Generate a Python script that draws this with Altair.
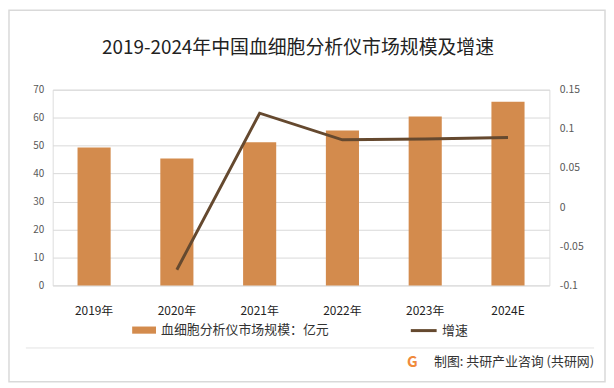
import altair as alt
import pandas as pd

years = ["2019年", "2020年", "2021年", "2022年", "2023年", "2024E"]
market_size = [49.3, 45.4, 51.2, 55.4, 60.4, 65.7]
growth_years = ["2020年", "2021年", "2022年", "2023年", "2024E"]
growth = [-0.08, 0.12, 0.086, 0.087, 0.089]

bar_label = "血细胞分析仪市场规模：亿元"
line_label = "增速"
title_text = "2019-2024年中国血细胞分析仪市场规模及增速"
source_text = "制图: 共研产业咨询 (共研网)"

BAR_COLOR = "#D38B4D"
LINE_COLOR = "#65492F"
FONT = "Noto Sans CJK SC"

bars_df = pd.DataFrame({"year": years, "value": market_size, "s": bar_label})
line_df = pd.DataFrame({"year": growth_years, "rate": growth, "s": line_label})
one = pd.DataFrame({"k": [0]})

x_enc = alt.X(
    "year:N",
    sort=years,
    scale=alt.Scale(domain=years, paddingInner=0.6, paddingOuter=0.3),
    axis=alt.Axis(title=None, labelAngle=0, domain=False, ticks=False,
                  labelFontSize=12, labelColor="#222222", labelFont=FONT,
                  labelPadding=20),
)

bars = alt.Chart(bars_df).mark_bar(color=BAR_COLOR).encode(
    x=x_enc,
    y=alt.Y("value:Q", scale=alt.Scale(domain=[0, 70], nice=False),
            axis=alt.Axis(title=None, values=[0, 10, 20, 30, 40, 50, 60, 70],
                          domain=False, ticks=False, grid=True,
                          gridColor="#D9D9D9", gridWidth=1,
                          labelFontSize=10, labelColor="#595959",
                          labelFont=FONT, labelPadding=9)),
    fill=alt.Fill("s:N", scale=alt.Scale(domain=[bar_label], range=[BAR_COLOR]),
                  legend=alt.Legend(title=None, orient="none", legendX=80, legendY=230,
                                    symbolType="M-1,-0.3H1V0.3H-1Z", symbolSize=576,
                                    symbolStrokeWidth=0,
                                    labelFontSize=13, labelColor="#333333",
                                    labelFont=FONT, labelOffset=5, labelLimit=400)),
)

line = alt.Chart(line_df).mark_line(color=LINE_COLOR, strokeWidth=3).encode(
    x=alt.X("year:N", sort=years, scale=alt.Scale(domain=years)),
    y=alt.Y("rate:Q", scale=alt.Scale(domain=[-0.1, 0.15], nice=False),
            axis=alt.Axis(title=None, orient="right",
                          values=[-0.1, -0.05, 0, 0.05, 0.1, 0.15],
                          labelExpr="replace(format(datum.value, '~g'), '−', '-')",
                          domain=False, ticks=False, grid=False,
                          labelFontSize=10.5, labelColor="#595959",
                          labelFont=FONT, labelPadding=10, labelAlign="left")),
    stroke=alt.Stroke("s:N", scale=alt.Scale(domain=[line_label], range=[LINE_COLOR]),
                      legend=alt.Legend(title=None, orient="none", legendX=359, legendY=228,
                                        symbolType="stroke", symbolSize=676,
                                        symbolStrokeWidth=3,
                                        labelFontSize=13, labelColor="#333333",
                                        labelFont=FONT, labelOffset=4)),
)

frame = alt.Chart(one).mark_rect(fill="transparent", stroke="#D9D9D9", strokeWidth=1.5).encode(
    x=alt.value(-44), x2=alt.value(556), y=alt.value(-80), y2=alt.value(294)
)

title = alt.Chart(one).mark_text(align="center", baseline="middle", fontSize=19,
                                 font=FONT, color="#222222").encode(
    x=alt.value(247), y=alt.value(-42), text=alt.value(title_text)
)

separator = alt.Chart(one).mark_rule(color="#E3E3E3", strokeWidth=1).encode(
    x=alt.value(-27), x2=alt.value(545), y=alt.value(260)
)

source = alt.Chart(one).mark_text(align="right", baseline="middle", fontSize=13,
                                  font=FONT, color="#333333").encode(
    x=alt.value(545), y=alt.value(274), text=alt.value(source_text)
)

logo = alt.Chart(one).mark_text(align="center", baseline="middle", fontSize=15,
                                fontWeight="bold", font=FONT, color="#F08A3C").encode(
    x=alt.value(362), y=alt.value(274), text=alt.value("G")
)

chart = alt.layer(frame, title, bars, line, separator, source, logo).resolve_scale(
    y="independent", fill="independent", stroke="independent"
).properties(
    width=500,
    height=197,
    autosize=alt.AutoSizeParams(type="none"),
    padding={"left": 45, "top": 81, "right": 57, "bottom": 98},
).configure_view(stroke=None).configure(background="white")

chart.save("out.html", embed_options={"renderer": "svg", "actions": False})
